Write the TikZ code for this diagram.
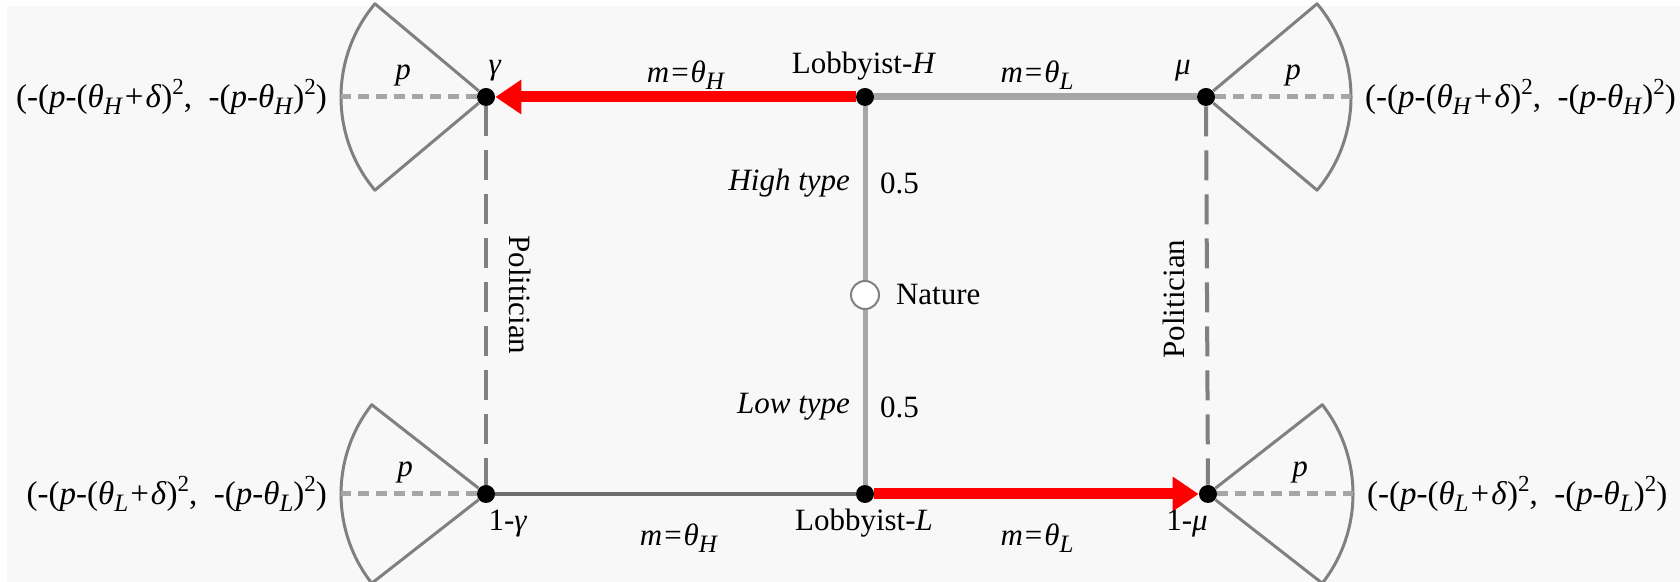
\documentclass[tikz,border=0pt]{standalone}
\usepackage{fontspec}
\setmainfont{Liberation Serif}
\usetikzlibrary{arrows.meta,positioning}
\definecolor{bgcol}{RGB}{248,248,248}
\definecolor{lgray}{RGB}{166,166,166}
\definecolor{mgray}{RGB}{128,128,128}
\definecolor{dgray}{RGB}{110,110,110}
\newcommand{\mv}[1]{\textit{#1}}
\newcommand{\lowsub}[1]{\raisebox{-0.45ex}{\fontsize{12.5}{14}\selectfont\textit{#1}}}
\newcommand{\sq}{\raisebox{0.85ex}{\fontsize{11.5}{13}\selectfont 2}}
\newcommand{\thsub}[1]{\textit{θ}\lowsub{#1}}
\newcommand{\payoff}[1]{(-(\mv{p}-(\thsub{#1}\kern1pt+\kern1pt\mv{δ})\sq,\enspace-(\mv{p}-\thsub{#1})\sq)}
\begin{document}
\begin{tikzpicture}[x=0.5pt,y=0.5pt,font=\fontsize{15.5}{18}\selectfont,line join=round,
  dot/.style={circle,fill=black,inner sep=0pt,minimum size=9pt},
  chance/.style={circle,draw=mgray,fill=white,line width=1pt,inner sep=0pt,minimum size=14pt},
  fan/.style={draw=mgray,line width=1.5pt},
  fandash/.style={lgray,line width=2.5pt,dash pattern=on 5.5pt off 3.5pt},
  poldash/.style={mgray,line width=2pt,dash pattern=on 15pt off 7pt},
  choice/.style={red,line width=5.5pt,-{Triangle[length=13pt,width=16.5pt]}},
  pay/.style={font=\fontsize{16.5}{19}\selectfont}]
\useasboundingbox (0,0) rectangle (1680,582);
\fill[bgcol] (7,0) rectangle (1680,576);
\node[dot] (gam) at (486,485) {};
\node[dot] (lobH) at (865,485) {};
\node[dot] (mu) at (1206,485) {};
\node[dot] (gamL) at (486,88) {};
\node[dot] (lobL) at (865,88) {};
\node[dot] (muL) at (1208,88) {};
\node[chance] (nat) at (865,287) {};
\draw[fan] (gam) -- ++(140:145) arc[start angle=140,end angle=220,radius=145] -- (gam);
\draw[fan] (gamL) -- ++(142:145) arc[start angle=142,end angle=218,radius=145] -- (gamL);
\draw[fan] (mu) -- ++(40:145) arc[start angle=40,end angle=-40,radius=145] -- (mu);
\draw[fan] (muL) -- ++(38:145) arc[start angle=38,end angle=-38,radius=145] -- (muL);
\draw[fandash] (gam) -- ++(-145,0);
\draw[fandash] (gamL) -- ++(-145,0);
\draw[fandash] (mu) -- ++(145,0);
\draw[fandash] (muL) -- ++(145,0);
\draw[poldash] (gam) -- (gamL);
\draw[poldash] (mu) -- (muL);
\draw[lgray,line width=3.5pt] (lobH) -- (mu);
\draw[lgray,line width=2.5pt] (lobH) -- (nat) -- (lobL);
\draw[dgray,line width=2.2pt] (gamL) -- (lobL);
\draw[choice] (lobH) -- (gam);
\draw[choice] (lobL) -- (muL);
\node (lgam) at (495,511) {\mv{γ}};
\node (lmu) at (1183,511) {\mv{μ}};
\node (lgamL) at (508,58) {1-\mv{γ}};
\node (lmuL) at (1187,58) {1-\mv{μ}};
\node (pHl) at (403,506) {\mv{p}};
\node (pHr) at (1293,506) {\mv{p}};
\node (pLl) at (405,109) {\mv{p}};
\node (pLr) at (1300,109) {\mv{p}};
\node (mHt) at (686,507) {\mv{m}\kern1pt=\kern1pt\thsub{H}};
\node (mLt) at (1037,507) {\mv{m}\kern1pt=\kern1pt\thsub{L}};
\node (mHb) at (679,44) {\mv{m}\kern1pt=\kern1pt\thsub{H}};
\node (mLb) at (1037,44) {\mv{m}\kern1pt=\kern1pt\thsub{L}};
\node (tlobH) at (864,516) {Lobbyist-\mv{H}};
\node (tlobL) at (864,59) {Lobbyist-\mv{L}};
\node[anchor=east] (high) at (857,399) {\mv{High type}};
\node[anchor=west] (phigh) at (873,399) {0.5};
\node[anchor=east] (low) at (857,175) {\mv{Low type}};
\node[anchor=west] (plow) at (873,175) {0.5};
\node[anchor=west] (tnat) at (889,287) {Nature};
\node[rotate=-90] (polL) at (520,287) {Politician};
\node[rotate=90] (polR) at (1174,283) {Politician};
\node[pay,anchor=east] (payHl) at (334,485) {\payoff{H}};
\node[pay,anchor=west] (payHr) at (1358,485) {\payoff{H}};
\node[pay,anchor=east] (payLl) at (334,88) {\payoff{L}};
\node[pay,anchor=west] (payLr) at (1360,88) {\payoff{L}};
\end{tikzpicture}
\end{document}
